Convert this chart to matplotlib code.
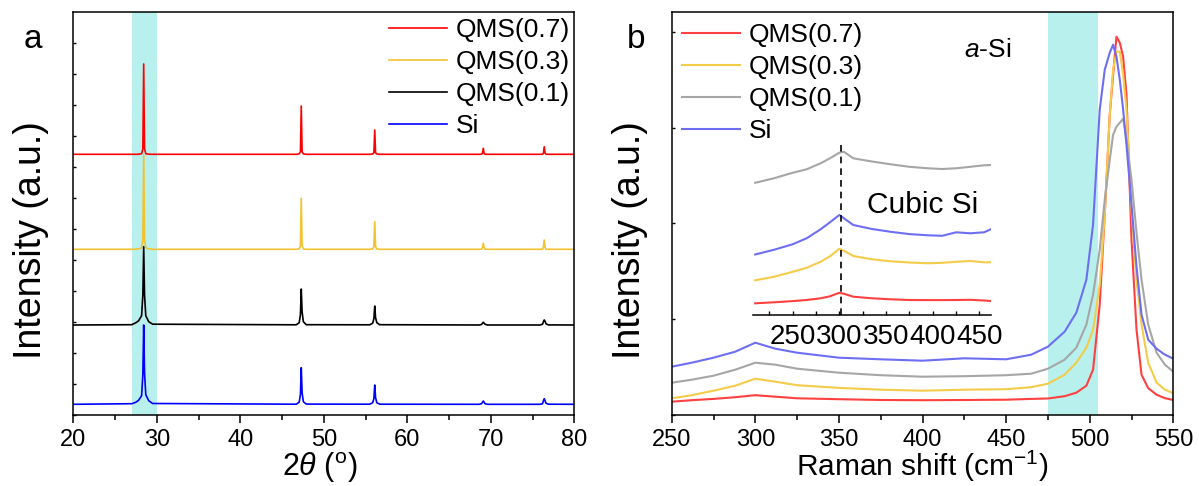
import matplotlib
matplotlib.use("Agg")
import matplotlib.pyplot as plt
from matplotlib.ticker import MultipleLocator

plt.rcParams['font.family'] = ['Liberation Sans', 'DejaVu Sans']
plt.rcParams['mathtext.fontset'] = 'custom'
plt.rcParams['mathtext.rm'] = 'Liberation Sans'
plt.rcParams['mathtext.it'] = 'Liberation Sans:italic'
plt.rcParams['mathtext.bf'] = 'Liberation Sans:bold'

# ---------------- XRD data (panel a) ----------------
xrd_labels = ["QMS(0.7)", "QMS(0.3)", "QMS(0.1)", "Si"]
xrd_colors = ["#FF0000", "#F2C230", "#000000", "#0000FF"]
xrd_2theta = [20.0, 27.0, 27.5, 27.83, 28.18, 28.33, 28.43, 28.53, 28.68, 29.03, 29.5,
              46.7, 47.05, 47.2, 47.3, 47.4, 47.55, 47.9,
              55.5, 55.85, 56.0, 56.1, 56.2, 56.35, 56.7,
              68.6, 68.9, 69.0, 69.1, 69.2, 69.3, 69.6,
              75.9, 76.2, 76.3, 76.4, 76.5, 76.6, 76.9, 80.0]
xrd_qms07 = [260.4, 260.4, 260.4, 260.5, 261.0, 266.0, 350.7, 266.0, 261.0, 260.5, 260.4,
             260.4, 260.8, 263.0, 308.7, 263.0, 260.8, 260.4,
             260.4, 260.7, 262.0, 284.7, 262.0, 260.7, 260.4,
             260.4, 260.5, 261.5, 266.4, 261.5, 260.5, 260.4,
             260.4, 260.5, 261.5, 268.0, 261.5, 260.5, 260.4, 260.4]
xrd_qms03 = [165.4, 165.4, 165.5, 165.8, 167.0, 175.0, 259.7, 175.0, 167.0, 165.8, 165.4,
             165.4, 165.8, 169.0, 216.4, 169.0, 165.8, 165.4,
             165.4, 165.7, 168.0, 193.0, 168.0, 165.7, 165.4,
             165.4, 165.5, 167.0, 171.4, 167.0, 165.5, 165.4,
             165.4, 165.5, 167.5, 174.7, 167.5, 165.5, 165.4, 165.4]
xrd_qms01 = [89.7, 90.0, 92.0, 94.0, 99.0, 120.0, 168.0, 120.0, 99.0, 93.0, 90.5,
             89.9, 92.0, 100.0, 125.7, 103.0, 93.0, 90.0,
             89.9, 91.5, 96.0, 108.7, 97.0, 92.0, 90.0,
             89.7, 90.2, 91.5, 92.4, 91.5, 90.5, 89.7,
             89.7, 90.5, 93.0, 94.7, 93.5, 91.0, 89.8, 89.7]
xrd_si = [10.4, 11.0, 12.5, 14.5, 19.0, 40.0, 89.7, 42.0, 20.0, 14.0, 11.2,
          10.5, 12.5, 20.0, 47.0, 22.0, 13.0, 10.6,
          10.5, 12.0, 16.0, 29.7, 17.0, 12.0, 10.5,
          10.4, 11.0, 12.5, 13.7, 12.5, 11.0, 10.4,
          10.4, 11.0, 14.0, 16.0, 14.0, 11.5, 10.5, 10.4]
xrd_band = [27.0, 30.0]

# ---------------- Raman data (panel b) ----------------
raman_labels = ["QMS(0.7)", "QMS(0.3)", "QMS(0.1)", "Si"]
raman_colors = ["#FF4040", "#F5CB4A", "#A6A6A6", "#6E6EF2"]
raman_shift = [250, 262, 275, 288, 300, 312, 325, 350, 375, 400, 425, 450, 465, 475, 485,
               492, 498, 502, 506, 509, 512, 514, 516, 518, 520, 522, 525, 528, 531, 535,
               540, 545, 550]
raman_qms07 = [13, 14.5, 15.8, 17.5, 19.5, 18, 16.4, 15.5, 14.7, 14.5, 14.7, 15, 15.8, 16.2, 18.5,
               22, 29, 45, 110, 200, 300, 340, 378, 372, 358, 320, 175, 85, 40, 26.5,
               20, 16.5, 14.7]
raman_qms03 = [16.4, 19.5, 24, 29, 36, 33, 29.5, 26.8, 25, 24, 25, 25.5, 27.5, 31, 40,
               52, 67, 85, 130, 200, 300, 345, 363, 363, 340, 305, 205, 135, 90, 52,
               32, 25, 21.4]
raman_qms01 = [32, 35, 39, 45, 52, 50, 46, 42, 39.5, 38, 38.5, 39.5, 41, 46, 55,
               67, 90, 120, 165, 215, 255, 280, 288, 292, 296, 275, 235, 182, 135, 90,
               62, 50, 43]
raman_si = [48, 52, 57, 63, 72, 66, 62, 57, 55.4, 54, 56.4, 55.4, 60, 68, 83,
            102, 135, 190, 305, 345, 362, 370, 358, 335, 305, 270, 210, 148, 100, 75,
            66, 60, 56]
raman_band = [475, 505]

# ---------------- Inset data ----------------
inset_shift = [210, 230, 250, 265, 280, 290, 300, 305, 315, 335, 355, 375, 395, 410, 425, 440, 455, 462]
inset_qms07 = [12, 13, 14.2, 15.3, 17, 19, 22.5, 21.5, 18.6, 17, 16, 15.3, 15.2, 15.2, 15.3, 15.5, 14.8, 14.3]
inset_qms03 = [35, 38.5, 43.5, 47.5, 53.5, 59, 66.5, 64.5, 59.3, 56, 54, 52.8, 52, 52.5, 53.5, 54.3, 53, 53]
inset_qms01 = [132.5, 137, 142.5, 146, 152, 157, 162.6, 163.5, 157, 153.8, 151, 148.5, 147, 146.3, 147, 148.5, 150, 150.3]
inset_si = [60.8, 65.5, 71, 77, 86, 93, 100.3, 97, 90.3, 86.3, 83.5, 81.2, 80, 79.5, 83, 82, 83, 86]
cubic_si_line = 302

W, H = 1199, 486
fig = plt.figure(figsize=(W / 100, H / 100), dpi=100)

def fx(px):
    return px / W

def fy(py):
    return 1 - py / H

ax1 = fig.add_axes([fx(73.3), fy(414.7), fx(574.3 - 73.3), (414.7 - 12) / H])
ax2 = fig.add_axes([fx(671.7), fy(414.7), fx(1173.3 - 671.7), (414.7 - 12) / H])

band_color = "#B8F0EE"
tick_fs = 17
leg_fs = 19

# ---- panel a ----
ax1.axvspan(xrd_band[0], xrd_band[1], color=band_color, lw=0, zorder=0)
for ys, c, lab in zip([xrd_qms07, xrd_qms03, xrd_qms01, xrd_si], xrd_colors, xrd_labels):
    ax1.plot(xrd_2theta, ys, color=c, lw=1.2, label=lab)
ax1.set_xlim(20, 80)
ax1.set_ylim(0, 402.7)
ax1.xaxis.set_major_locator(MultipleLocator(10))
ax1.xaxis.set_minor_locator(MultipleLocator(5))
ax1.yaxis.set_major_locator(MultipleLocator(31))
ax1.tick_params(axis='x', which='major', direction='out', length=6, width=1.1, labelsize=tick_fs, pad=4)
ax1.tick_params(axis='x', which='minor', direction='out', length=3.5, width=1.1)
ax1.tick_params(axis='y', which='major', direction='in', length=2.5, width=1.0, labelleft=False)
ax1.legend(loc='upper right', bbox_to_anchor=(0.991, 0.984), frameon=False, fontsize=leg_fs,
           handlelength=2.2, handletextpad=0.33, labelspacing=0.3, borderpad=0.0,
           borderaxespad=0.0)

# ---- panel b ----
ax2.axvspan(raman_band[0], raman_band[1], color=band_color, lw=0, zorder=0)
for ys, c, lab in zip([raman_qms07, raman_qms03, raman_qms01, raman_si], raman_colors, raman_labels):
    ax2.plot(raman_shift, ys, color=c, lw=1.5, label=lab)
ax2.set_xlim(250, 550)
ax2.set_ylim(0, 402.7)
ax2.xaxis.set_major_locator(MultipleLocator(50))
ax2.xaxis.set_minor_locator(MultipleLocator(25))
ax2.yaxis.set_major_locator(MultipleLocator(95.7))
ax2.tick_params(axis='x', which='major', direction='out', length=6, width=1.1, labelsize=tick_fs, pad=4)
ax2.tick_params(axis='x', which='minor', direction='out', length=3.5, width=1.1)
ax2.tick_params(axis='y', which='major', direction='in', length=2.5, width=1.0, labelleft=False)
ax2.legend(loc='upper left', bbox_to_anchor=(0.02, 0.972), frameon=False, fontsize=leg_fs,
           handlelength=2.2, handletextpad=0.33, labelspacing=0.3, borderpad=0.0,
           borderaxespad=0.0)
ax2.text(0.63, 0.906, r'$\mathit{a}$-Si', transform=ax2.transAxes, fontsize=19,
         ha='center', va='center')
ax2.text(0.5, 0.52, 'Cubic Si', transform=ax2.transAxes, fontsize=21.5,
         ha='center', va='center')

for ax in (ax1, ax2):
    for s in ax.spines.values():
        s.set_linewidth(1.1)

# ---- inset ----
axin = fig.add_axes([fx(753.3), fy(315.3), fx(990.7 - 753.3), (315.3 - 140.3) / H])
axin.patch.set_alpha(0)
for ys, c in zip([inset_qms07, inset_qms03, inset_qms01, inset_si], raman_colors):
    axin.plot(inset_shift, ys, color=c, lw=1.5)
axin.axvline(cubic_si_line, color='black', lw=1.2, ls=(0, (4, 3)))
axin.set_xlim(208, 462)
axin.set_ylim(0, 175)
for k in ('left', 'right', 'top'):
    axin.spines[k].set_visible(False)
axin.spines['bottom'].set_linewidth(1.1)
axin.set_yticks([])
axin.xaxis.set_major_locator(MultipleLocator(50))
axin.xaxis.set_minor_locator(MultipleLocator(25))
axin.tick_params(axis='x', which='major', direction='in', length=3, width=1.0, labelsize=20, pad=6)
axin.tick_params(axis='x', which='minor', direction='in', length=3, width=1.0)

# ---- labels ----
fig.text(fx(31), fy(240), 'Intensity (a.u.)', rotation=90, fontsize=27, ha='center', va='center')
fig.text(fx(630), fy(240), 'Intensity (a.u.)', rotation=90, fontsize=27, ha='center', va='center')
fig.text(fx(320), fy(468), r'2$\mathit{\theta}$ ($^{\mathrm{o}}$)', fontsize=22, ha='center', va='center')
fig.text(fx(922), fy(466), r'Raman shift (cm$^{-1}$)', fontsize=21.5, ha='center', va='center')
fig.text(fx(33), fy(40), 'a', fontsize=24, ha='center', va='center')
fig.text(fx(636), fy(40), 'b', fontsize=24, ha='center', va='center')

fig.savefig('out.png', dpi=100)
